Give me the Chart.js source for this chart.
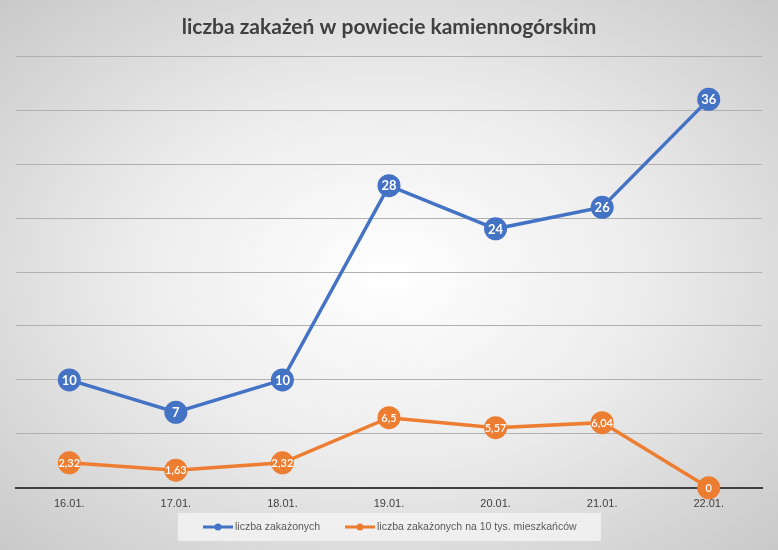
<!DOCTYPE html>
<html>
<head>
<meta charset="utf-8">
<script src="https://cdn.jsdelivr.net/npm/chart.js@4"></script>
<style>
  html, body { margin: 0; padding: 0; }
  #wrap {
    width: 778px; height: 550px; position: relative;
    background: radial-gradient(ellipse farthest-corner at 50% 50%, #ffffff 0%, #ededed 45%, #c9c9c9 100%);
  }
</style>
</head>
<body>
<div id="wrap"><canvas id="chart1" width="778" height="550"></canvas></div>
<script>
// data
const labels = ['16.01.', '17.01.', '18.01.', '19.01.', '20.01.', '21.01.', '22.01.'];
const zakazeni = [10, 7, 10, 28, 24, 26, 36];
const naDziesiecTys = [2.32, 1.63, 2.32, 6.5, 5.57, 6.04, 0];
const seriesNames = ['liczba zakażonych', 'liczba zakażonych na 10 tys. mieszkańców'];
const BLUE = '#4472C4';
const ORANGE = '#ED7D31';

// labels inside the points
const pointLabels = {
  id: 'pointLabels',
  afterDatasetsDraw(chart) {
    const ctx = chart.ctx;
    chart.data.datasets.forEach((ds, i) => {
      chart.getDatasetMeta(i).data.forEach((pt, j) => {
        const v = ds.data[j];
        ctx.save();
        ctx.fillStyle = '#ffffff';
        ctx.font = (i === 0 ? 'bold 13px' : '600 11px') + ' Lato, "Open Sans", sans-serif';
        ctx.textAlign = 'center';
        ctx.textBaseline = 'middle';
        ctx.fillText(String(v).replace('.', ','), pt.x, pt.y + 0.5);
        ctx.restore();
      });
    });
  }
};

// legend drawn by hand (box, line+dot marker, text)
const customLegend = {
  id: 'customLegend',
  beforeDraw(chart) {
    const ctx = chart.ctx;
    ctx.save();
    ctx.fillStyle = 'rgba(242,242,242,0.85)';
    ctx.fillRect(178, 513, 423, 28);
    ctx.restore();
  },
  afterDraw(chart) {
    const ctx = chart.ctx;
    const y = 527;
    const starts = [203, 345];
    chart.data.datasets.forEach((ds, i) => {
      const x = starts[i];
      ctx.save();
      ctx.strokeStyle = ds.borderColor;
      ctx.fillStyle = ds.borderColor;
      ctx.lineWidth = 3;
      ctx.beginPath(); ctx.moveTo(x, y); ctx.lineTo(x + 30, y); ctx.stroke();
      ctx.beginPath(); ctx.arc(x + 15, y, 3.5, 0, Math.PI * 2); ctx.fill();
      ctx.fillStyle = '#595959';
      ctx.font = '10.5px "Liberation Sans Narrow", "Liberation Sans", sans-serif';
      ctx.textBaseline = 'middle';
      ctx.fillText(ds.label, x + 32, y);
      ctx.restore();
    });
  }
};

const ctx = document.getElementById('chart1').getContext('2d');
new Chart(ctx, {
  type: 'line',
  data: {
    labels: labels,
    datasets: [{
      label: seriesNames[0],
      data: zakazeni,
      borderColor: BLUE,
      backgroundColor: BLUE,
      borderWidth: 3.5,
      pointRadius: 11.5,
      pointHoverRadius: 11.5,
      pointBorderWidth: 0,
      tension: 0,
      clip: false
    }, {
      label: seriesNames[1],
      data: naDziesiecTys,
      borderColor: ORANGE,
      backgroundColor: ORANGE,
      borderWidth: 3.5,
      pointRadius: 11.5,
      pointHoverRadius: 11.5,
      pointBorderWidth: 0,
      tension: 0,
      clip: false
    }]
  },
  options: {
    responsive: false,
    animation: false,
    layout: { padding: { left: 16, right: 16, top: 0, bottom: 29 } },
    plugins: {
      title: {
        display: true,
        text: 'liczba zakażeń w powiecie kamiennogórskim',
        color: '#404040',
        font: { family: 'Lato, "Open Sans", sans-serif', size: 21, weight: 'bold' },
        padding: { top: 15, bottom: 16 }
      },
      legend: { display: false },
      tooltip: { enabled: false }
    },
    scales: {
      x: {
        offset: true,
        grid: { display: false, drawTicks: false },
        border: { display: true, color: '#404040', width: 2 },
        ticks: {
          color: '#404040',
          padding: 10,
          font: { family: '"Liberation Sans", sans-serif', size: 11 }
        }
      },
      y: {
        min: 0,
        max: 40,
        ticks: { display: false, stepSize: 5 },
        grid: { color: '#b0b0b0', lineWidth: 1, drawTicks: false },
        border: { display: false }
      }
    }
  },
  plugins: [customLegend, pointLabels]
});
</script>
</body>
</html>
